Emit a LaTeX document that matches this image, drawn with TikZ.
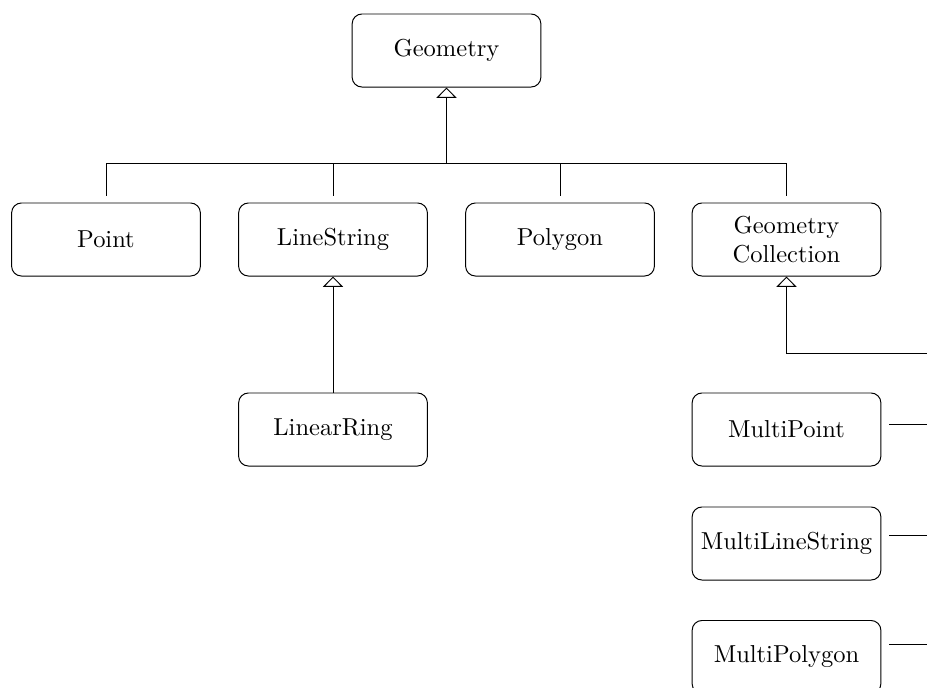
\documentclass[tikz,border=0pt]{standalone}
\usetikzlibrary{arrows.meta}
\begin{document}
\begin{tikzpicture}[x=0.408pt,y=-0.408pt,
  cls/.style={draw, rectangle, rounded corners=4pt, minimum width=77pt, minimum height=29.8pt, align=center, inner sep=2pt, font=\normalsize},
  inh/.style={-{Triangle[open,width=8.2pt,length=4.2pt]}},
  conn/.style={line width=0.4pt}]
\useasboundingbox (0,0) rectangle (927,689);
\clip (0,0) rectangle (927,687);

\node[cls] (geom) at (446.5,50.5) {Geometry};
\node[cls] (point) at (106,239.5) {Point};
\node[cls] (ls) at (333,239.5) {LineString};
\node[cls] (poly) at (560,239.5) {Polygon};
\node[cls] (gc) at (786.5,239.5) {Geometry\\Collection};
\node[cls] (lr) at (333,429.5) {LinearRing};
\node[cls] (mpt) at (786.5,429.5) {MultiPoint};
\node[cls] (mls) at (786.5,543.5) {MultiLineString};
\node[cls] (mpg) at (786.5,657) {MultiPolygon};

% bar under Geometry
\coordinate (barmid) at (446.5,163);
\coordinate (barl) at (106,163);
\coordinate (barr) at (786.5,163);
\draw[conn,inh] (barmid) -- (geom.south);
\draw[conn] (barl) -- (barr);
\draw[conn] (barl) -- ([yshift=2.5pt]point.north);
\draw[conn] (333,163) -- ([yshift=2.5pt]ls.north);
\draw[conn] (560,163) -- ([yshift=2.5pt]poly.north);
\draw[conn] (barr) -- ([yshift=2.5pt]gc.north);

% LinearRing -> LineString
\draw[conn,inh] (lr.north) -- (ls.south);

% Collections -> GeometryCollection
\coordinate (gcc) at (786.5,353);
\coordinate (gce) at (930,353);
\draw[conn,inh] (gce) -- (gcc) -- (gc.south);
\coordinate (mpte) at (930,424.5);
\coordinate (mlse) at (930,535);
\coordinate (mpge) at (930,644);
\draw[conn] ([xshift=3.3pt]mpt.east |- mpte) -- (mpte);
\draw[conn] ([xshift=3.3pt]mls.east |- mlse) -- (mlse);
\draw[conn] ([xshift=3.3pt]mpg.east |- mpge) -- (mpge);
\end{tikzpicture}
\end{document}
